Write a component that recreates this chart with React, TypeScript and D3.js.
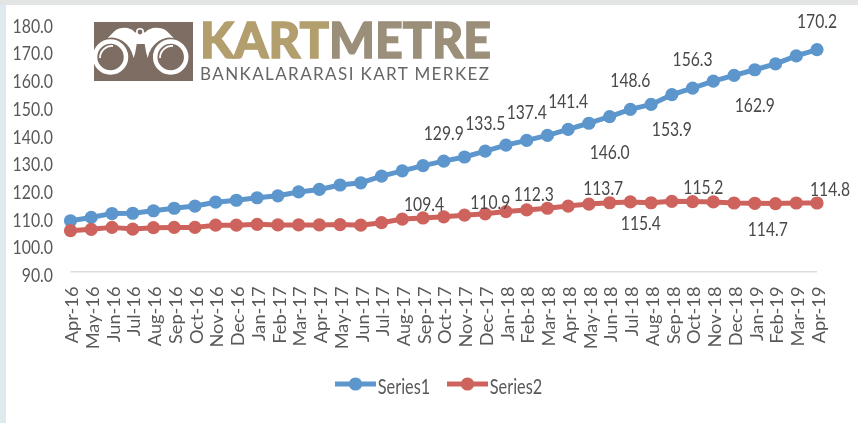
import React from "react";
import * as d3 from "d3";

const months = ["Apr-16","May-16","Jun-16","Jul-16","Aug-16","Sep-16","Oct-16","Nov-16","Dec-16","Jan-17","Feb-17","Mar-17","Apr-17","May-17","Jun-17","Jul-17","Aug-17","Sep-17","Oct-17","Nov-17","Dec-17","Jan-18","Feb-18","Mar-18","Apr-18","May-18","Jun-18","Jul-18","Aug-18","Sep-18","Oct-18","Nov-18","Dec-18","Jan-19","Feb-19","Mar-19","Apr-19"];
const series1 = [108.4,109.6,111.0,111.1,112.0,112.9,113.7,115.1,115.8,116.7,117.4,118.8,119.7,121.3,122.1,124.5,126.4,128.3,129.9,131.4,133.5,135.7,137.4,139.2,141.4,143.6,146.0,148.6,150.4,153.9,156.3,158.8,160.9,162.9,165.0,167.9,170.2];
const series2 = [104.8,105.3,106.0,105.4,105.9,106.0,106.0,106.8,106.8,107.1,106.9,106.9,106.9,107.0,106.8,107.7,109.0,109.4,109.8,110.4,110.9,111.7,112.3,112.9,113.7,114.4,114.9,115.2,114.9,115.4,115.3,115.2,114.8,114.7,114.6,114.8,114.8];
const yTicks = [90,100,110,120,130,140,150,160,170,180];

// Manually placed data labels: [month, dx, centre y offset from the point]
const labels1: [string, number, number][] = [["Oct-17",0,-29],["Dec-17",0,-29],["Feb-18",0,-29],["Apr-18",0,-29],["Jun-18",0,35],["Jul-18",0,-30],["Sep-18",0,34],["Oct-18",0,-30],["Jan-19",0,34],["Apr-19",0,-29]];
const labels2: [string, number, number][] = [["Sep-17",1,-15],["Dec-17",5,-13],["Feb-18",7,-17],["Apr-18",35,-19],["Sep-18",-31,21],["Nov-18",-10,-16],["Jan-19",13,25],["Apr-19",13,-15]];

const blue = "#5b96cc";
const red = "#cd645c";
const FONT = "Lato, 'Open Sans', sans-serif";

const x = d3.scalePoint<string>().domain(months).range([70.5, 817]);
const y = d3.scaleLinear().domain([90, 180]).range([271.7, 22.4]);
const line = d3.line<number>().x((_, i) => x(months[i])!).y((d) => y(d));

const valueOf = (s: number[], m: string) => s[months.indexOf(m)];

function Label({ cx, cy, text, sx = 0.95, sy = 1.2, size = 16.5, fill = "#484848" }: any) {
  return (
    <text
      transform={`translate(${cx},${cy}) scale(${sx},${sy})`}
      textAnchor="middle"
      dominantBaseline="central"
      fontFamily={FONT}
      fontSize={size}
      fill={fill}
    >
      {text}
    </text>
  );
}

function Series({ data, color }: { data: number[]; color: string }) {
  return (
    <g>
      <path d={line(data)!} fill="none" stroke={color} strokeWidth={5} strokeLinejoin="round" />
      {data.map((d, i) => (
        <circle key={i} cx={x(months[i])} cy={y(d)} r={6.6} fill={color} />
      ))}
    </g>
  );
}

function Logo() {
  return (
    <g>
      <rect x={94} y={22} width={99} height={59} fill="#7e6d64" />
      <path transform="translate(-3.3,0)" d="M111 38 L118 31 Q123 27 131 28 L136 30 Q138 33 140 33 Q143 36 146 33 Q149 33 151 30 L156 28 Q165 27 170 31 L177 38 Q170 36 162 41 Q153 47 151 58 Q149 52 148 44 L140 44 Q139 52 137 58 Q134 46 126 41 Q118 36 111 38 Z" fill="#fff" />
      <circle cx={140} cy={32} r={3.2} fill="#7e6d64" stroke="#fff" strokeWidth={1.6} />
      <circle cx={110.5} cy={57} r={15.5} fill="#7e6d64" stroke="#fff" strokeWidth={4.5} />
      <circle cx={170.7} cy={57} r={15.5} fill="#7e6d64" stroke="#fff" strokeWidth={4.5} />
      <path d="M100 58 A12 12 0 0 1 113 46" fill="none" stroke="#fff" strokeWidth={1.8} />
      <path d="M160 58 A12 12 0 0 1 173 46" fill="none" stroke="#fff" strokeWidth={1.8} />
      <text x={200} y={58} fontFamily={FONT} fontWeight={900} fontSize={50} fill="#b39e6d" stroke="#b39e6d" strokeWidth={1.4} textLength={129} lengthAdjust="spacingAndGlyphs">KART</text>
      <text x={329} y={58} fontFamily={FONT} fontWeight={900} fontSize={50} fill="#9b8f7a" stroke="#9b8f7a" strokeWidth={1.4} textLength={162} lengthAdjust="spacingAndGlyphs">METRE</text>
      <text x={200} y={80} fontFamily={FONT} fontSize={17} fill="#666" textLength={289} lengthAdjust="spacing">BANKALARARASI KART MERKEZ</text>
    </g>
  );
}

function LegendItem({ left, color, name }: { left: number; color: string; name: string }) {
  return (
    <g>
      <line x1={left} x2={left + 41} y1={384} y2={384} stroke={color} strokeWidth={5} />
      <circle cx={left + 20.5} cy={384} r={6.6} fill={color} />
      <Label cx={left + 69} cy={386} text={name} sx={0.96} sy={1.2} size={17} fill="#595959" />
    </g>
  );
}

export default function App() {
  return (
    <svg width={858} height={423} style={{ position: "fixed", left: 0, top: 0, display: "block" }}>
      <defs>
        <filter id="soft" x="-5%" y="-5%" width="110%" height="110%">
          <feGaussianBlur stdDeviation="0.35" />
        </filter>
      </defs>
      <rect width={858} height={423} fill="#fff" />
      <rect x={0} y={0} width={6} height={423} fill="#dfeaee" />
      <rect x={0} y={0} width={858} height={5} fill="#e3e5e5" />
      <g filter="url(#soft)">
        <Logo />
        {yTicks.map((t) => (
          <text key={t} transform={`translate(53,${y(t) + 2.7}) scale(0.93,1.15)`} textAnchor="end" dominantBaseline="central" fontFamily={FONT} fontSize={17} fill="#595959">
            {t.toFixed(1)}
          </text>
        ))}
        <line x1={70.5} x2={817} y1={271.7} y2={271.7} stroke="#dcdcdc" strokeWidth={1.6} />
        {months.map((m) => (
          <text key={m} transform={`translate(${x(m)! + 1.5},286.5) rotate(-90) scale(1.14,1.05)`} textAnchor="end" dominantBaseline="central" fontFamily={FONT} fontSize={16} fill="#595959">
            {m}
          </text>
        ))}
        <Series data={series1} color={blue} />
        <Series data={series2} color={red} />
        {labels1.map(([m, dx, dy]) => (
          <Label key={m} cx={x(m)! + dx} cy={y(valueOf(series1, m)) + dy} text={valueOf(series1, m).toFixed(1)} />
        ))}
        {labels2.map(([m, dx, dy]) => (
          <Label key={m} cx={x(m)! + dx} cy={y(valueOf(series2, m)) + dy} text={valueOf(series2, m).toFixed(1)} />
        ))}
        <LegendItem left={335} color={blue} name="Series1" />
        <LegendItem left={447} color={red} name="Series2" />
      </g>
    </svg>
  );
}
